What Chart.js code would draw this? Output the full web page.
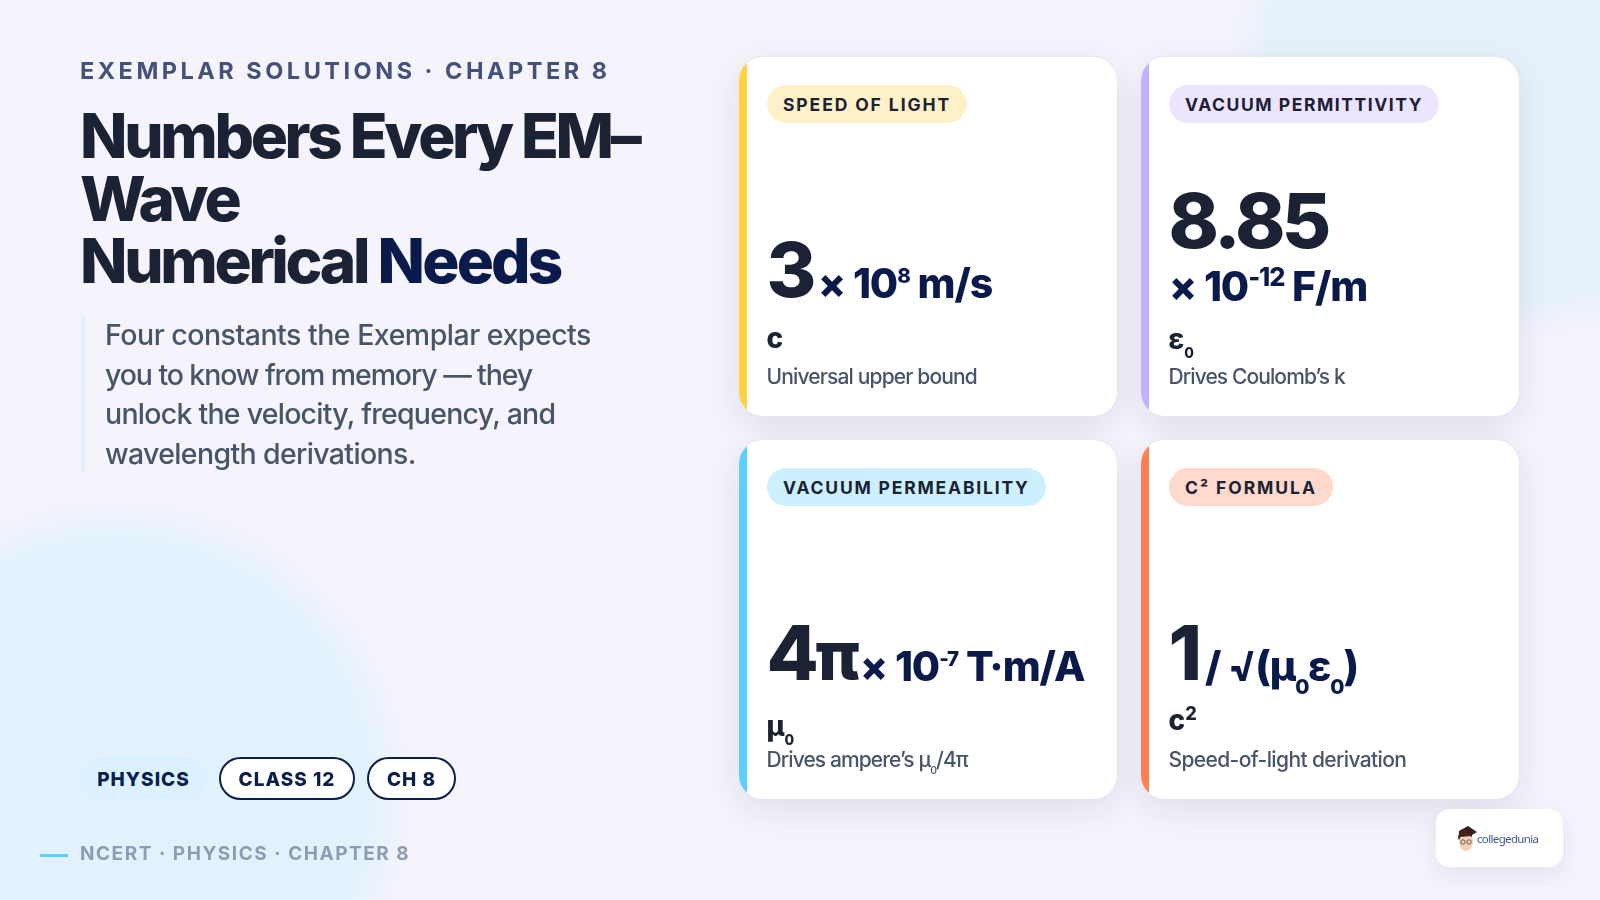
<!DOCTYPE html>
<html>
<head>
<meta charset="utf-8">
<script src="https://cdn.jsdelivr.net/npm/chart.js@4/dist/chart.umd.min.js"></script>
<style>
  html, body { margin: 0; padding: 0; }
  body {
    width: 1600px; height: 900px; overflow: hidden; position: relative;
    font-family: Inter, sans-serif;
    background:
      radial-gradient(circle 300px at 1530px 40px, #e6f1fb 0, #e6f1fb 86%, rgba(230,241,251,0) 100%),
      radial-gradient(circle 300px at 115px 795px, #e2f2fd 0, #e2f2fd 84%, rgba(226,242,253,0) 100%),
      #f5f3fb;
  }
  #board { position: absolute; left: 0; top: 0; }
  .line { position: absolute; white-space: nowrap; line-height: 1; }
  .pill { position: absolute; box-sizing: border-box; border-radius: 22px; height: 43px; top: 757px; padding-top: 1px;
          font-size: 19px; font-weight: 800; letter-spacing: 1px; color: #0b1f4f;
          display: flex; align-items: center; justify-content: center; }
  .chip { position: absolute; left: 28px; height: 38px; border-radius: 19px; box-sizing: border-box;
          font-size: 17.5px; font-weight: 700; color: #1a2233;
          display: flex; align-items: center; padding: 1px 16px 0; white-space: nowrap; }
  .big { font-size: 76px; font-weight: 800; color: #1a2233; letter-spacing: -3.5px; }
  .unit { font-size: 41px; font-weight: 800; color: #0a1a4a; letter-spacing: -1.1px; }
  .sym { font-size: 28px; font-weight: 800; color: #1a2233; }
  .note { font-size: 21px; font-weight: 500; color: #475569; }
  sup, sub { line-height: 0; font-size: 0.5em; }
  sub { vertical-align: -0.62em; }
</style>
</head>
<body>
<canvas id="board" width="1600" height="900"></canvas>

<div class="line" style="left:80px;top:59px;font-size:23.5px;font-weight:700;letter-spacing:3.5px;color:#44527a">EXEMPLAR SOLUTIONS · CHAPTER 8</div>
<div class="line" style="left:80px;top:105px;font-size:62px;line-height:62.6px;font-weight:800;letter-spacing:-3.3px;color:#1a2233">Numbers Every EM–<br>Wave<br>Numerical <span style="color:#0a1a4a;letter-spacing:-2.8px">Needs</span></div>
<div style="position:absolute;left:81px;top:315px;width:4px;height:158px;background:#e0f2fe"></div>
<div class="line" style="left:105px;top:315px;font-size:28.5px;line-height:39.7px;font-weight:500;letter-spacing:-0.5px;color:#475569">Four constants the Exemplar expects<br><span style="letter-spacing:-1.1px">you to know from memory — they</span><br><span style="letter-spacing:-0.75px">unlock the velocity, frequency, and</span><br><span style="letter-spacing:-0.65px">wavelength derivations.</span></div>

<div class="pill" style="left:80px;width:127px;background:#dcf1ff">PHYSICS</div>
<div class="pill" style="left:219px;width:136px;background:#fff;border:2.5px solid #0b1f4f">CLASS 12</div>
<div class="pill" style="left:367px;width:89px;background:#fff;border:2.5px solid #0b1f4f">CH 8</div>

<div style="position:absolute;left:40px;top:854px;width:28px;height:3px;background:#5bcfff"></div>
<div class="line" style="left:80px;top:844px;font-size:19px;font-weight:700;letter-spacing:1.53px;color:#8f9bb3">NCERT · PHYSICS · CHAPTER 8</div>

<div style="position:absolute;left:1436px;top:809px;width:127px;height:58px;background:#fff;border-radius:14px;box-shadow:0 8px 24px rgba(30,30,80,.08)">
  <svg width="127" height="58" style="position:absolute;left:0;top:0">
    <path d="M23 22 L32 17 L41 23 L36 26 L36 32 L23 31 Z" fill="#3a1c18"/>
    <ellipse cx="30" cy="33" rx="7" ry="9" fill="#f4d3b5"/>
    <path d="M22 31 Q21 21 31 22 L36 27 L24 28 Z" fill="#4a2018"/>
    <circle cx="27" cy="33" r="2.2" fill="none" stroke="#444" stroke-width=".8"/>
    <circle cx="33" cy="33" r="2.2" fill="none" stroke="#444" stroke-width=".8"/>
    <text x="41" y="34" font-family="Noto Sans" font-size="11.5" fill="#3d5a94" textLength="62">collegedunia</text>
  </svg>
</div>

<script>
// cards sit on a 2 x 2 grid of category bands
const columns = ['left', 'right'];
const rows = ['top', 'bottom'];
const cardColumns = ['left', 'right', 'left', 'right'];
const cardRows = ['top', 'top', 'bottom', 'bottom'];
const cardTags = ['SPEED OF LIGHT', 'VACUUM PERMITTIVITY', 'VACUUM PERMEABILITY', 'C² FORMULA'];
const cardBig = ['3', '8.85', '4<span style="font-size:.9em;letter-spacing:-5px">π</span>', '1'];
const cardUnits = [
  '× 10<sup>8</sup> m/s',
  '× 10<sup style="font-size:.62em">-12</sup> F/m',
  '× 10<sup>-7</sup> T·m/A',
  '/ √(μ<sub>0</sub>ε<sub>0</sub>)'
];
const cardSymbols = ['c', 'ε<sub>0</sub>', 'μ<sub>0</sub>', 'c<sup style="font-size:.65em">2</sup>'];
const cardNotes = ['Universal upper bound', 'Drives Coulomb’s k', 'Drives ampere’s μ<sub>0</sub>/4π', 'Speed-of-light derivation'];
const accents = ['#ffd23f', '#c4b0ff', '#5bcfff', '#ff7f50'];
const chipFills = ['#fff1c7', '#ede5ff', '#cdf0ff', '#ffd9cc'];

const CARD_W = 378, CARD_H = 359, MARGIN = 70;

// card face used as the point image, so the scales decide where it goes
const makeCard = (accent) => {
  const c = document.createElement('canvas');
  c.width = CARD_W + MARGIN * 2;
  c.height = CARD_H + MARGIN * 2;
  const g = c.getContext('2d');
  g.save();
  g.shadowColor = 'rgba(30,30,80,0.10)';
  g.shadowBlur = 36;
  g.shadowOffsetY = 10;
  g.fillStyle = '#fff';
  g.beginPath();
  g.roundRect(MARGIN, MARGIN, CARD_W, CARD_H, 24);
  g.fill();
  g.restore();
  g.save();
  g.strokeStyle = 'rgba(226,232,240,0.6)';
  g.beginPath();
  g.roundRect(MARGIN - 0.5, MARGIN - 0.5, CARD_W + 1, CARD_H + 1, 24);
  g.stroke();
  g.beginPath();
  g.roundRect(MARGIN, MARGIN, CARD_W, CARD_H, 24);
  g.clip();
  g.fillStyle = accent;
  g.fillRect(MARGIN, MARGIN, 8, CARD_H);
  g.restore();
  return c;
};

const chart = new Chart(document.getElementById('board'), {
  type: 'scatter',
  data: {
    datasets: [{
      data: cardColumns.map((col, i) => ({ x: col, y: cardRows[i] })),
      pointStyle: accents.map(makeCard),
      clip: false
    }]
  },
  options: {
    responsive: false,
    animation: false,
    events: [],
    layout: { padding: { left: 727, right: 69, top: 45, bottom: 89 } },
    plugins: { legend: { display: false }, tooltip: { enabled: false } },
    scales: {
      x: { type: 'category', labels: columns, offset: true, display: false },
      y: { type: 'category', labels: rows, offset: true, display: false }
    }
  }
});

// text layout inside a card, measured from its top left corner
const tagSpacing = [1.9, 1.55, 1.8, 1.95];
const bigBase = [240, 191, 240, 240];
const unitBase = [241.5, 244, 241.5, 241.5];
const unitX = [79, 28, 121, 64];
const symBase = [291, 292, 296, 290];
const noteBase = 327;
const noteSpacing = [-0.85, -0.9, -0.9, -0.62];

const addLine = (parent, cls, html, x, base, size) => {
  const d = document.createElement('div');
  d.className = 'line ' + cls;
  d.innerHTML = html;
  d.style.left = x + 'px';
  d.style.top = (base - 0.864 * size) + 'px';
  parent.appendChild(d);
  return d;
};

cardTags.forEach((tag, i) => {
  const card = document.createElement('div');
  card.style.position = 'absolute';
  card.style.left = (chart.scales.x.getPixelForValue(columns.indexOf(cardColumns[i])) - CARD_W / 2) + 'px';
  card.style.top = (chart.scales.y.getPixelForValue(rows.indexOf(cardRows[i])) - CARD_H / 2) + 'px';
  card.style.width = CARD_W + 'px';
  card.style.height = CARD_H + 'px';

  const chip = document.createElement('div');
  chip.className = 'chip';
  chip.style.top = '28px';
  chip.style.background = chipFills[i];
  chip.style.letterSpacing = tagSpacing[i] + 'px';
  chip.textContent = tag;
  card.appendChild(chip);

  addLine(card, 'big', cardBig[i], 27.5, bigBase[i], 76);
  addLine(card, 'unit', cardUnits[i], unitX[i], unitBase[i], 41);
  addLine(card, 'sym', cardSymbols[i], 27.5, symBase[i], 28);
  addLine(card, 'note', cardNotes[i], 27.5, noteBase, 21).style.letterSpacing = noteSpacing[i] + 'px';
  document.body.appendChild(card);
});
</script>
</body>
</html>
